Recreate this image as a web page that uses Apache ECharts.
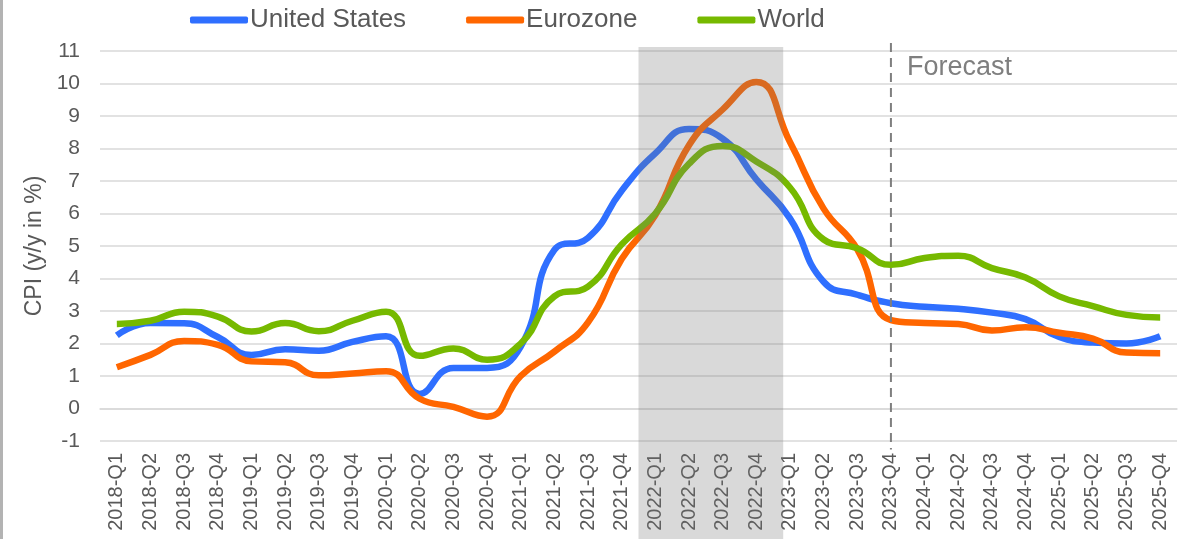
<!DOCTYPE html>
<html>
<head>
<meta charset="utf-8">
<title>CPI forecast</title>
<script src="https://cdn.jsdelivr.net/npm/echarts@6/dist/echarts.min.js"></script>
<style>
  html, body { margin: 0; padding: 0; background: #fff; }
  #main { width: 1188px; height: 539px; box-sizing: border-box; border-left: 3px solid #b3b3b3; }
</style>
</head>
<body>
<div id="main"></div>
<script>
// quarters on the x axis
var categories = [
  '2018-Q1', '2018-Q2', '2018-Q3', '2018-Q4', '2019-Q1', '2019-Q2', '2019-Q3', '2019-Q4',
  '2020-Q1', '2020-Q2', '2020-Q3', '2020-Q4', '2021-Q1', '2021-Q2', '2021-Q3', '2021-Q4',
  '2022-Q1', '2022-Q2', '2022-Q3', '2022-Q4', '2023-Q1', '2023-Q2', '2023-Q3', '2023-Q4',
  '2024-Q1', '2024-Q2', '2024-Q3', '2024-Q4', '2025-Q1', '2025-Q2', '2025-Q3', '2025-Q4'
];

// CPI y/y in %
var unitedStates = [
  2.25, 2.63, 2.62, 2.2, 1.65, 1.82, 1.78, 2.05,
  2.22, 0.45, 1.25, 1.25, 1.9, 4.88, 5.25, 6.7,
  7.85, 8.6, 8.3, 7.05, 5.85, 3.9, 3.5, 3.24,
  3.13, 3.07, 2.95, 2.75, 2.2, 2.03, 2.0, 2.22
];
var eurozone = [
  1.27, 1.65, 2.08, 1.96, 1.45, 1.42, 1.02, 1.08,
  1.15, 0.3, 0.05, -0.25, 1.0, 1.75, 2.65, 4.6,
  5.95, 8.1, 9.2, 10.05, 8.2, 6.15, 4.9, 2.72,
  2.63, 2.6, 2.4, 2.5, 2.33, 2.15, 1.72, 1.7
];
var world = [
  2.6, 2.7, 2.98, 2.83, 2.37, 2.63, 2.38, 2.7,
  2.98, 1.62, 1.85, 1.5, 2.0, 3.45, 3.75, 5.05,
  6.0, 7.53, 8.08, 7.6, 6.8, 5.2, 4.93, 4.42,
  4.63, 4.7, 4.32, 4.03, 3.45, 3.15, 2.88, 2.8
];

var yMin = -1, yMax = 11, yStep = 1;

// shaded period (in category index units) and start of the forecast
var shadeRange = [categories.indexOf('2022-Q1') - 0.5, categories.indexOf('2023-Q1') - 0.2];
var forecastAt = categories.indexOf('2023-Q4');

var font = "'Liberation Sans', Arial, sans-serif";
var textGray = '#595959';

var myChart = echarts.init(document.getElementById('main'));

myChart.setOption({
  animation: false,
  textStyle: { fontFamily: font },
  legend: {
    left: 187,
    top: 7,
    padding: 0,
    itemWidth: 58,
    itemHeight: 7,
    itemGap: 60,
    icon: 'roundRect',
    textStyle: { fontSize: 26, color: textGray, padding: [0, 0, 0, -3] },
    data: ['United States', 'Eurozone', 'World']
  },
  grid: { left: 97, right: 11, top: 51, bottom: 98 },
  xAxis: [{
    type: 'category',
    data: categories,
    boundaryGap: true,
    axisLine: { lineStyle: { color: '#d9d9d9', width: 1.5 } },
    axisTick: { show: false },
    axisLabel: { interval: 0, rotate: 90, fontSize: 20, color: textGray, margin: 12 }
  }, {
    // index axis used to place the annotations
    type: 'value',
    min: -0.5,
    max: categories.length - 0.5,
    show: false
  }],
  yAxis: {
    type: 'value',
    min: yMin,
    max: yMax,
    interval: yStep,
    name: 'CPI (y/y in %)',
    nameLocation: 'middle',
    nameGap: 47,
    nameTextStyle: { fontSize: 23, color: textGray },
    axisLine: { show: false },
    axisTick: { show: false },
    axisLabel: { fontSize: 21, color: textGray, margin: 20 },
    splitLine: { lineStyle: { color: '#d9d9d9', width: 1.5 } }
  },
  series: [
    {
      name: 'United States',
      type: 'line',
      data: unitedStates,
      smooth: 0.5,
      symbol: 'none',
      color: '#2F6FFF',
      lineStyle: { width: 6.5 }
    },
    {
      name: 'Eurozone',
      type: 'line',
      data: eurozone,
      smooth: 0.5,
      symbol: 'none',
      color: '#FF6600',
      lineStyle: { width: 6.5 }
    },
    {
      name: 'World',
      type: 'line',
      data: world,
      smooth: 0.5,
      symbol: 'none',
      color: '#76B900',
      lineStyle: { width: 6.5 }
    },
    {
      // gray band drawn over the lines
      type: 'custom',
      xAxisIndex: 1,
      z: 10,
      silent: true,
      data: [shadeRange],
      renderItem: function (params, api) {
        var p0 = api.coord([api.value(0), yMax + 0.12]);
        var p1 = api.coord([api.value(1), yMax + 0.12]);
        return {
          type: 'rect',
          shape: { x: p0[0], y: p0[1], width: p1[0] - p0[0], height: api.getHeight() - p0[1] },
          style: { fill: 'rgba(120,120,120,0.28)' }
        };
      }
    },
    {
      // forecast marker
      type: 'custom',
      xAxisIndex: 1,
      z: 11,
      silent: true,
      data: [[forecastAt]],
      renderItem: function (params, api) {
        var top = api.coord([api.value(0), yMax + 0.25]);
        var bottom = api.coord([api.value(0), yMin - 0.26]);
        var lbl = api.coord([api.value(0), yMax - 0.52]);
        return {
          type: 'group',
          children: [{
            type: 'line',
            shape: { x1: top[0], y1: top[1], x2: bottom[0], y2: bottom[1] },
            style: { stroke: '#7f7f7f', lineWidth: 2, lineDash: [9, 6] }
          }, {
            type: 'text',
            style: {
              text: 'Forecast',
              x: lbl[0] + 16,
              y: lbl[1],
              fill: '#7f7f7f',
              font: '27px ' + font,
              verticalAlign: 'middle'
            }
          }]
        };
      }
    }
  ]
});
</script>
</body>
</html>
